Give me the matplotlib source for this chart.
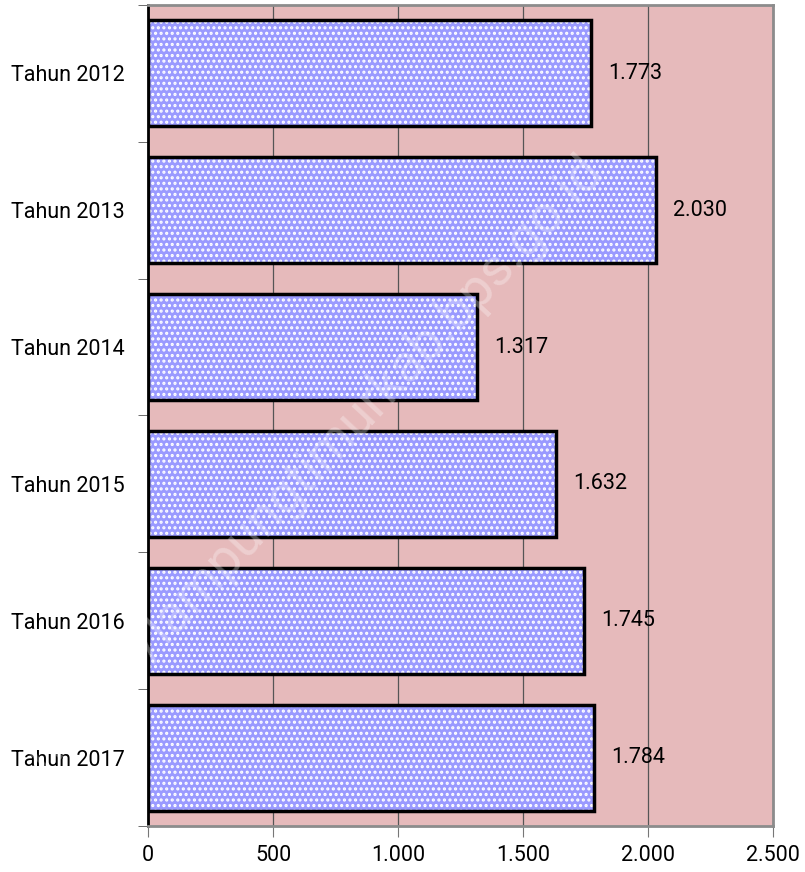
import matplotlib.pyplot as plt
from matplotlib.ticker import FuncFormatter

# data
tahun = ['Tahun 2012', 'Tahun 2013', 'Tahun 2014', 'Tahun 2015', 'Tahun 2016', 'Tahun 2017']
nilai = [1773, 2030, 1317, 1632, 1745, 1784]

plt.rcParams['font.family'] = ['Roboto', 'DejaVu Sans']
plt.rcParams['hatch.linewidth'] = 1.5


def ribuan(v, pos=None):
    return f'{int(v):,}'.replace(',', '.')


fig = plt.figure(figsize=(8.05, 8.72), dpi=100)
ax = fig.add_axes([0.1839, 0.0528, 0.7764, 0.9415])
ax.set_facecolor('#e6babb')

y = list(range(len(tahun)))
# isi batang dengan pola titik putih
ax.barh(y, nilai, height=0.775, color='#9a9aff', edgecolor='white',
        hatch='...', linewidth=0, zorder=2)
# garis tepi batang
ax.barh(y, nilai, height=0.775, color='none', edgecolor='black',
        linewidth=2.5, zorder=3)

for yi, v in zip(y, nilai):
    ax.text(v + 68, yi, ribuan(v), va='center', ha='left', fontsize=15.5, zorder=4)

ax.set_xlim(0, 2500)
ax.set_ylim(len(tahun) - 0.5, -0.5)
ax.set_xticks([0, 500, 1000, 1500, 2000, 2500])
ax.xaxis.set_major_formatter(FuncFormatter(ribuan))
ax.set_yticks(y)
ax.set_yticklabels(tahun)
ax.set_yticks([i - 0.5 for i in range(len(tahun) + 1)], minor=True)
ax.tick_params(axis='y', which='major', length=0, pad=17, labelsize=15.5)
ax.tick_params(axis='y', which='minor', length=7, color='#555555', direction='out')
ax.tick_params(axis='x', length=8, color='#777777', pad=6, labelsize=15.5)
ax.grid(axis='x', color='#555555', linewidth=0.9, zorder=1)
ax.set_axisbelow(True)

ax.spines['left'].set_color('black')
ax.spines['left'].set_linewidth(2)
for s in ['top', 'right', 'bottom']:
    ax.spines[s].set_color('#8c8c8c')
    ax.spines[s].set_linewidth(2)

# watermark
fig.text(0.39, 0.47, 'https://lampungtimurkab.bps.go.id', rotation=47,
         fontsize=38, color='white', alpha=0.3, ha='center', va='center',
         zorder=10)

fig.savefig('out.png', dpi=100)
